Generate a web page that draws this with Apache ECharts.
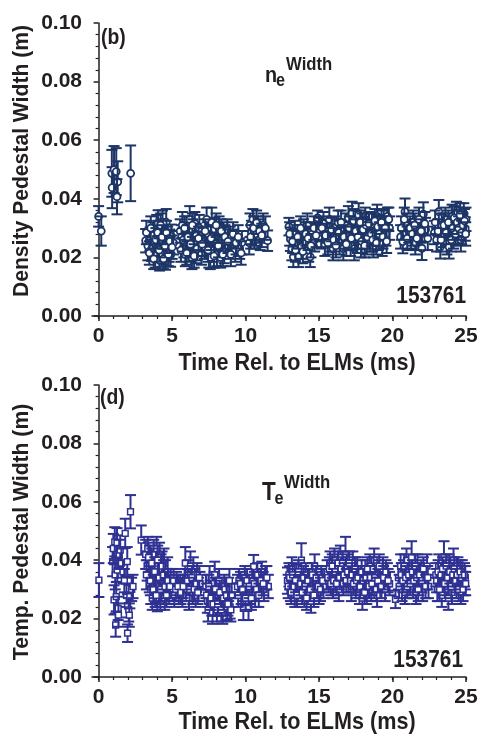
<!DOCTYPE html>
<html><head><meta charset="utf-8">
<script src="https://cdn.jsdelivr.net/npm/echarts@6/dist/echarts.min.js"></script>
<style>html,body{margin:0;padding:0;background:#fff}#c{width:484px;height:742px}</style>
</head><body><div id="c"></div>
<script>
// ---- Panel (b): density pedestal width (ms, m, m) ----
var nTime = [0.00,0.18,0.90,0.92,1.05,1.20,1.30,1.25,2.18,
3.20,3.35,3.50,3.60,3.70,3.80,3.85,3.95,4.00,4.05,4.10,4.15,4.20,4.25,4.30,4.35,4.40,4.45,4.50,4.55,4.60,4.65,4.70,4.80,4.90,4.95,5.10,
5.55,5.65,5.70,5.80,5.90,5.95,6.05,6.10,6.15,6.20,6.30,6.35,6.40,6.45,6.55,6.60,6.65,6.75,6.85,
7.00,7.10,7.20,7.35,7.40,7.50,7.55,7.60,7.70,7.75,7.80,7.90,7.95,8.05,8.10,8.20,8.25,8.30,8.40,8.50,8.55,8.65,8.75,8.85,8.95,9.05,9.20,9.30,9.45,9.60,9.75,
10.25,10.30,10.40,10.50,10.60,10.70,10.85,11.00,11.20,11.50,
12.95,13.05,13.15,13.25,13.35,13.45,13.60,13.70,13.80,13.95,14.05,14.20,14.30,14.40,14.55,14.70,14.90,15.00,
15.15,15.30,15.40,15.55,15.70,15.80,15.95,16.05,16.20,16.30,16.40,16.55,16.65,16.80,16.90,
17.00,17.10,17.15,17.25,17.30,17.40,17.45,17.55,17.60,17.70,17.75,17.85,17.95,18.05,18.15,18.25,18.35,18.45,18.60,18.70,18.85,18.95,19.05,19.15,19.30,19.40,19.55,19.65,19.80,
20.55,20.70,20.85,20.95,21.10,21.25,21.40,21.55,21.70,21.85,22.00,22.10,22.25,22.40,
22.85,23.00,23.15,23.25,23.35,23.45,23.60,23.70,23.85,23.95,24.05,24.15,24.25,24.35,24.45,24.55,24.65,24.75,24.85,24.95,25.00];
var nWidth = [0.0340,0.0290,0.0487,0.0438,0.0500,0.0493,0.0458,0.0407,0.0487,
0.0257,0.0240,0.0262,0.0228,0.0275,0.0250,0.0205,0.0300,0.0232,0.0316,0.0268,0.0190,0.0245,0.0290,0.0208,0.0320,0.0255,0.0222,0.0282,0.0198,0.0320,0.0240,0.0265,0.0230,0.0208,0.0272,0.0250,
0.0290,0.0270,0.0310,0.0240,0.0210,0.0280,0.0255,0.0300,0.0225,0.0330,0.0265,0.0200,0.0290,0.0240,0.0315,0.0220,0.0275,0.0250,0.0300,
0.0215,0.0260,0.0235,0.0330,0.0280,0.0205,0.0250,0.0200,0.0320,0.0270,0.0225,0.0295,0.0245,0.0210,0.0275,0.0300,0.0235,0.0200,0.0260,0.0280,0.0220,0.0250,0.0290,0.0235,0.0265,0.0245,0.0260,0.0225,0.0240,0.0230,0.0250,
0.0250,0.0310,0.0285,0.0330,0.0270,0.0280,0.0300,0.0265,0.0310,0.0257,
0.0305,0.0262,0.0230,0.0202,0.0285,0.0250,0.0202,0.0270,0.0235,0.0290,0.0255,0.0310,0.0225,0.0202,0.0280,0.0260,0.0335,0.0295,
0.0270,0.0315,0.0245,0.0290,0.0330,0.0260,0.0230,0.0300,0.0275,0.0320,0.0250,0.0290,0.0230,0.0310,0.0265,
0.0335,0.0280,0.0245,0.0350,0.0300,0.0230,0.0270,0.0320,0.0255,0.0345,0.0290,0.0240,0.0310,0.0270,0.0330,0.0250,0.0290,0.0260,0.0310,0.0240,0.0280,0.0340,0.0265,0.0300,0.0245,0.0325,0.0280,0.0340,0.0300,
0.0270,0.0254,0.0356,0.0310,0.0290,0.0270,0.0320,0.0250,0.0300,0.0280,0.0231,0.0348,0.0295,0.0265,
0.0285,0.0260,0.0356,0.0236,0.0310,0.0275,0.0330,0.0250,0.0236,0.0300,0.0340,0.0270,0.0310,0.0350,0.0285,0.0330,0.0260,0.0315,0.0345,0.0297,0.0330];
var nErr = [0.0035,0.005,0.008,0.007,0.008,0.008,0.007,0.006,0.0095,
0.004,0.005,0.004,0.004,0.0045,0.004,0.004,0.0045,0.004,0.0045,0.004,0.0035,0.004,0.004,0.004,0.004,0.004,0.0045,0.004,0.004,0.0045,0.004,0.004,0.0045,0.004,0.004,0.004,
0.004,0.004,0.0045,0.004,0.004,0.004,0.004,0.004,0.004,0.0045,0.004,0.004,0.004,0.004,0.004,0.004,0.004,0.004,0.0045,
0.004,0.004,0.004,0.004,0.004,0.004,0.004,0.004,0.005,0.004,0.004,0.004,0.004,0.004,0.004,0.004,0.004,0.0035,0.004,0.004,0.004,0.004,0.004,0.004,0.004,0.004,0.0035,0.004,0.0035,0.0035,0.004,
0.004,0.004,0.004,0.0035,0.004,0.004,0.004,0.004,0.004,0.0035,
0.003,0.004,0.004,0.0035,0.004,0.004,0.0035,0.004,0.004,0.004,0.004,0.004,0.004,0.0035,0.004,0.004,0.0025,0.004,
0.004,0.004,0.004,0.004,0.004,0.004,0.004,0.004,0.004,0.004,0.004,0.004,0.004,0.004,0.004,
0.004,0.004,0.004,0.004,0.004,0.004,0.004,0.004,0.004,0.004,0.004,0.004,0.004,0.004,0.004,0.004,0.004,0.004,0.004,0.004,0.004,0.004,0.004,0.004,0.004,0.004,0.004,0.003,0.004,
0.004,0.004,0.0045,0.004,0.004,0.004,0.004,0.004,0.004,0.004,0.004,0.004,0.004,0.004,
0.004,0.004,0.004,0.004,0.004,0.004,0.004,0.004,0.004,0.004,0.004,0.004,0.004,0.004,0.004,0.004,0.004,0.004,0.004,0.004,0.004];
// additional overlapping (b) points hidden inside the dense clusters
var nTime2 = [3.25,3.45,3.55,3.75,3.90,4.02,4.12,4.22,4.32,4.42,4.52,4.62,4.75,4.85,5.00,
5.60,5.75,5.85,6.00,6.08,6.25,6.38,6.50,6.70,6.80,
7.05,7.25,7.45,7.65,7.85,8.00,8.15,8.35,8.45,8.60,8.80,9.00,9.15,9.35,9.50,9.70,
10.35,10.55,10.75,10.95,11.10,11.35,
13.00,13.20,13.40,13.55,13.75,13.90,14.10,14.25,14.45,14.65,14.80,
15.20,15.45,15.60,15.85,16.00,16.15,16.35,16.50,16.70,16.85,
17.05,17.20,17.35,17.50,17.65,17.80,17.90,18.00,18.10,18.20,18.30,18.40,18.55,18.65,18.80,18.90,19.00,19.10,19.25,19.35,19.50,19.60,19.75,
20.60,20.80,21.00,21.20,21.35,21.50,21.65,21.80,21.95,22.20,
22.90,23.10,23.30,23.50,23.65,23.80,24.00,24.10,24.20,24.30,24.40,24.50,24.60,24.70,24.80,24.90,24.98];
var nWidth2 = [0.0285,0.0215,0.0300,0.0195,0.0260,0.0285,0.0225,0.0310,0.0270,0.0195,0.0240,0.0285,0.0210,0.0255,0.0235,
0.0225,0.0260,0.0300,0.0215,0.0270,0.0245,0.0310,0.0205,0.0230,0.0265,
0.0245,0.0290,0.0225,0.0265,0.0205,0.0310,0.0240,0.0290,0.0210,0.0270,0.0255,0.0210,0.0280,0.0250,0.0270,0.0215,
0.0270,0.0300,0.0320,0.0290,0.0275,0.0300,
0.0280,0.0255,0.0225,0.0270,0.0300,0.0220,0.0280,0.0265,0.0240,0.0300,0.0275,
0.0300,0.0275,0.0250,0.0295,0.0260,0.0240,0.0285,0.0320,0.0270,0.0245,
0.0300,0.0265,0.0325,0.0290,0.0270,0.0320,0.0255,0.0295,0.0240,0.0310,0.0270,0.0315,0.0280,0.0260,0.0325,0.0250,0.0305,0.0280,0.0320,0.0270,0.0300,0.0255,0.0330,
0.0300,0.0330,0.0265,0.0300,0.0280,0.0310,0.0265,0.0330,0.0290,0.0315,
0.0320,0.0290,0.0260,0.0310,0.0285,0.0320,0.0260,0.0300,0.0335,0.0280,0.0320,0.0300,0.0345,0.0285,0.0310,0.0325,0.0280];
var nErr2 = [0.004,0.004,0.004,0.0035,0.004,0.004,0.004,0.004,0.004,0.0035,0.004,0.004,0.004,0.004,0.004,
0.004,0.004,0.004,0.004,0.004,0.004,0.004,0.004,0.004,0.004,
0.004,0.004,0.004,0.004,0.004,0.004,0.004,0.004,0.004,0.004,0.004,0.004,0.004,0.004,0.004,0.004,
0.004,0.004,0.004,0.004,0.004,0.004,
0.004,0.004,0.004,0.004,0.004,0.004,0.004,0.004,0.004,0.004,0.004,
0.004,0.004,0.004,0.004,0.004,0.004,0.004,0.004,0.004,0.004,
0.004,0.004,0.004,0.004,0.004,0.004,0.004,0.004,0.004,0.004,0.004,0.004,0.004,0.004,0.004,0.004,0.004,0.004,0.004,0.004,0.004,0.004,0.004,
0.004,0.004,0.004,0.004,0.004,0.004,0.004,0.004,0.004,0.004,
0.004,0.004,0.004,0.004,0.004,0.004,0.004,0.004,0.004,0.004,0.004,0.004,0.004,0.004,0.004,0.004,0.004];

// ---- Panel (d): temperature pedestal width ----
var tTime = [0.02,0.95,1.00,1.05,1.10,1.13,1.16,1.20,1.25,1.27,1.33,1.35,1.40,1.47,1.55,1.66,1.75,1.81,1.90,1.95,1.97,1.97,2.05,2.09,2.13,2.17,2.25,2.34,2.90,
3.20,3.30,3.35,3.45,3.50,3.55,3.60,3.65,3.75,3.80,3.85,3.90,3.95,4.00,4.05,4.10,4.15,4.20,4.25,4.30,4.40,4.45,4.50,4.55,4.65,4.70,4.80,4.90,
5.05,5.15,5.30,5.45,5.55,5.70,5.85,5.90,6.00,6.10,6.15,6.25,6.30,6.40,6.45,6.55,6.60,6.70,6.80,6.90,
7.30,7.40,7.45,7.55,7.60,7.70,7.75,7.85,7.90,8.00,8.05,8.15,8.20,8.30,8.40,8.45,8.55,8.65,8.75,8.85,8.95,9.05,
9.45,9.55,9.70,9.85,9.95,10.05,10.20,10.30,10.45,10.55,10.65,10.80,10.95,11.10,11.25,11.35,11.55,
12.85,12.95,13.05,13.15,13.25,13.35,13.45,13.55,13.65,13.80,13.90,14.00,14.10,14.20,14.35,14.45,14.60,14.70,14.85,15.00,15.15,15.30,
15.55,15.65,15.75,15.85,15.95,16.05,16.15,16.25,16.35,16.45,16.55,16.65,16.80,16.90,17.00,17.10,17.20,17.30,17.40,17.50,17.60,
17.75,17.85,17.95,18.05,18.15,18.25,18.35,18.45,18.55,18.65,18.75,18.85,18.95,19.05,19.20,19.35,19.50,19.65,19.80,20.20,
20.40,20.55,20.65,20.75,20.85,20.95,21.05,21.15,21.30,21.40,21.50,21.60,21.70,21.80,21.95,22.05,22.20,22.35,22.45,
22.95,23.05,23.15,23.25,23.35,23.50,23.60,23.70,23.80,23.85,23.95,24.05,24.15,24.25,24.35,24.45,24.55,24.65,24.75,24.85,24.95];
var tWidth = [0.0332,0.0395,0.0440,0.0264,0.0463,0.0350,0.0178,0.0275,0.0460,0.0366,0.0235,0.0212,0.0420,0.0435,0.0390,0.0360,0.0330,0.0492,0.0280,0.0395,0.0244,0.0150,0.0230,0.0212,0.0275,0.0566,0.0300,0.0310,0.0469,
0.0420,0.0380,0.0440,0.0340,0.0400,0.0300,0.0360,0.0270,0.0420,0.0320,0.0290,0.0380,0.0440,0.0265,0.0350,0.0310,0.0410,0.0280,0.0370,0.0330,0.0300,0.0390,0.0270,0.0350,0.0320,0.0360,0.0290,0.0330,
0.0300,0.0280,0.0320,0.0290,0.0310,0.0280,0.0330,0.0390,0.0300,0.0350,0.0270,0.0380,0.0320,0.0290,0.0360,0.0330,0.0280,0.0350,0.0300,0.0320,
0.0310,0.0260,0.0230,0.0340,0.0290,0.0250,0.0222,0.0320,0.0350,0.0270,0.0230,0.0300,0.0330,0.0250,0.0280,0.0222,0.0310,0.0260,0.0235,0.0300,0.0240,0.0280,
0.0310,0.0330,0.0290,0.0235,0.0340,0.0310,0.0235,0.0290,0.0330,0.0378,0.0280,0.0350,0.0320,0.0360,0.0300,0.0340,0.0310,
0.0330,0.0350,0.0300,0.0370,0.0320,0.0280,0.0345,0.0300,0.0330,0.0400,0.0310,0.0280,0.0350,0.0290,0.0330,0.0260,0.0310,0.0380,0.0320,0.0290,0.0340,0.0310,
0.0360,0.0330,0.0390,0.0350,0.0310,0.0400,0.0340,0.0370,0.0300,0.0410,0.0350,0.0320,0.0420,0.0380,0.0330,0.0360,0.0300,0.0390,0.0340,0.0310,0.0370,
0.0290,0.0340,0.0270,0.0310,0.0360,0.0290,0.0330,0.0380,0.0300,0.0350,0.0400,0.0320,0.0280,0.0360,0.0330,0.0370,0.0300,0.0350,0.0320,0.0266,
0.0340,0.0380,0.0300,0.0360,0.0290,0.0400,0.0330,0.0370,0.0410,0.0310,0.0350,0.0290,0.0380,0.0320,0.0360,0.0300,0.0340,0.0380,0.0310,
0.0350,0.0300,0.0380,0.0330,0.0280,0.0410,0.0350,0.0300,0.0270,0.0380,0.0330,0.0290,0.0400,0.0340,0.0310,0.0370,0.0330,0.0290,0.0360,0.0320,0.0340];
var tErr = [0.0058,0.005,0.005,0.005,0.005,0.005,0.004,0.005,0.005,0.004,0.004,0.004,0.005,0.005,0.005,0.004,0.004,0.005,0.004,0.005,0.004,0.003,0.004,0.004,0.004,0.0057,0.004,0.004,0.005,
0.005,0.005,0.004,0.005,0.005,0.005,0.005,0.004,0.005,0.005,0.005,0.005,0.004,0.004,0.005,0.005,0.005,0.005,0.005,0.005,0.005,0.005,0.004,0.005,0.005,0.005,0.004,0.004,
0.004,0.004,0.004,0.004,0.004,0.004,0.004,0.0055,0.004,0.005,0.004,0.005,0.004,0.004,0.005,0.004,0.004,0.004,0.004,0.004,
0.004,0.004,0.004,0.004,0.004,0.004,0.004,0.004,0.0045,0.004,0.004,0.004,0.004,0.004,0.004,0.004,0.004,0.004,0.004,0.004,0.004,0.004,
0.004,0.004,0.004,0.004,0.004,0.004,0.004,0.004,0.004,0.004,0.004,0.004,0.004,0.0035,0.004,0.004,0.004,
0.0045,0.004,0.004,0.004,0.004,0.004,0.004,0.004,0.004,0.0058,0.004,0.004,0.004,0.004,0.004,0.004,0.004,0.004,0.004,0.004,0.004,0.004,
0.004,0.004,0.004,0.004,0.004,0.004,0.004,0.004,0.004,0.004,0.004,0.004,0.006,0.004,0.004,0.004,0.004,0.004,0.004,0.004,0.004,
0.004,0.004,0.004,0.004,0.004,0.004,0.004,0.004,0.004,0.004,0.004,0.004,0.004,0.004,0.004,0.004,0.004,0.004,0.004,0.003,
0.004,0.004,0.004,0.004,0.004,0.004,0.004,0.004,0.0055,0.004,0.004,0.004,0.004,0.004,0.004,0.004,0.004,0.004,0.004,
0.004,0.004,0.004,0.004,0.004,0.0055,0.004,0.004,0.004,0.004,0.004,0.004,0.004,0.004,0.004,0.004,0.004,0.004,0.004,0.004,0.004];
// additional overlapping (d) points hidden inside the dense clusters
var tTime2 = [3.25,3.40,3.52,3.62,3.72,3.82,3.92,4.02,4.12,4.22,4.32,4.42,4.52,4.62,4.72,4.85,
5.10,5.25,5.40,5.60,5.75,6.05,6.20,6.35,6.50,6.65,6.75,6.85,
7.35,7.50,7.65,7.80,7.95,8.10,8.25,8.35,8.50,8.60,8.70,8.80,8.90,9.00,
9.50,9.65,9.80,10.00,10.10,10.25,10.40,10.60,10.75,10.90,11.05,11.20,11.45,
12.90,13.00,13.10,13.20,13.30,13.40,13.50,13.60,13.75,13.85,13.95,14.05,14.15,14.25,14.40,14.55,14.65,14.80,14.95,15.10,15.25,
15.60,15.70,15.80,15.90,16.00,16.10,16.20,16.30,16.40,16.50,16.60,16.70,16.85,16.95,17.05,17.15,17.25,17.35,17.45,17.55,17.65,
17.80,17.90,18.00,18.10,18.20,18.30,18.40,18.50,18.60,18.70,18.80,18.90,19.00,19.10,19.25,19.40,19.55,19.70,
20.45,20.60,20.70,20.80,20.90,21.00,21.10,21.20,21.35,21.45,21.55,21.65,21.75,21.85,22.00,22.10,22.25,22.40,
23.00,23.10,23.20,23.30,23.40,23.55,23.65,23.75,23.90,24.00,24.10,24.20,24.30,24.40,24.50,24.60,24.70,24.80,24.90,24.98];
var tWidth2 = [0.0350,0.0410,0.0330,0.0390,0.0300,0.0360,0.0280,0.0400,0.0340,0.0300,0.0380,0.0350,0.0310,0.0280,0.0330,0.0310,
0.0330,0.0300,0.0310,0.0290,0.0310,0.0330,0.0300,0.0340,0.0300,0.0320,0.0290,0.0340,
0.0280,0.0310,0.0270,0.0250,0.0300,0.0250,0.0290,0.0230,0.0270,0.0300,0.0280,0.0250,0.0330,0.0230,
0.0280,0.0320,0.0300,0.0270,0.0330,0.0310,0.0270,0.0320,0.0300,0.0280,0.0330,0.0320,0.0340,
0.0310,0.0340,0.0290,0.0350,0.0310,0.0330,0.0280,0.0360,0.0320,0.0290,0.0340,0.0310,0.0270,0.0330,0.0300,0.0350,0.0280,0.0340,0.0310,0.0300,0.0330,
0.0340,0.0370,0.0320,0.0380,0.0330,0.0360,0.0320,0.0390,0.0340,0.0370,0.0390,0.0350,0.0330,0.0360,0.0390,0.0330,0.0350,0.0320,0.0370,0.0330,0.0340,
0.0310,0.0360,0.0330,0.0290,0.0340,0.0370,0.0310,0.0340,0.0320,0.0370,0.0340,0.0300,0.0330,0.0380,0.0310,0.0340,0.0360,0.0330,
0.0310,0.0350,0.0330,0.0380,0.0340,0.0310,0.0350,0.0320,0.0360,0.0330,0.0380,0.0340,0.0300,0.0350,0.0330,0.0370,0.0310,0.0340,
0.0330,0.0360,0.0300,0.0350,0.0370,0.0320,0.0380,0.0340,0.0360,0.0310,0.0350,0.0370,0.0330,0.0350,0.0300,0.0360,0.0340,0.0300,0.0350,0.0320];
var tErr2 = [0.005,0.005,0.005,0.005,0.005,0.005,0.004,0.005,0.005,0.005,0.005,0.005,0.005,0.004,0.004,0.004,
0.004,0.004,0.004,0.004,0.004,0.004,0.004,0.004,0.004,0.004,0.004,0.004,
0.004,0.004,0.004,0.004,0.004,0.004,0.004,0.004,0.004,0.004,0.004,0.004,0.004,0.004,
0.004,0.004,0.004,0.004,0.004,0.004,0.004,0.004,0.004,0.004,0.004,0.004,0.004,
0.004,0.004,0.004,0.004,0.004,0.004,0.004,0.004,0.004,0.004,0.004,0.004,0.004,0.004,0.004,0.004,0.004,0.004,0.004,0.004,0.004,
0.004,0.004,0.004,0.004,0.004,0.004,0.004,0.004,0.004,0.004,0.004,0.004,0.004,0.004,0.004,0.004,0.004,0.004,0.004,0.004,0.004,
0.004,0.004,0.004,0.004,0.004,0.004,0.004,0.004,0.004,0.004,0.004,0.004,0.004,0.004,0.004,0.004,0.004,0.004,
0.004,0.004,0.004,0.004,0.004,0.004,0.004,0.004,0.004,0.004,0.004,0.004,0.004,0.004,0.004,0.004,0.004,0.004,
0.004,0.004,0.004,0.004,0.004,0.004,0.004,0.004,0.004,0.004,0.004,0.004,0.004,0.004,0.004,0.004,0.004,0.004,0.004,0.004];

var xMajorTicks = [0,5,10,15,20,25];
var xMinorTicks = [0,1,2,3,4,5,6,7,8,9,10,11,12,13,14,15,16,17,18,19,20,21,22,23,24,25];

var FONT = "'Liberation Sans', Arial, sans-serif";
var INK = '#231f20';
var C_N = '#1c3566';
var C_T = '#2e3192';

function zip(a, b, c) { return a.map(function (t, i) { return [t, b[i], c[i]]; }); }

function errRender(kind, color) {
  return function (params, api) {
    var x = api.value(0), y = api.value(1), e = api.value(2);
    var c = api.coord([x, y]);
    var hi = api.coord([x, y + e]);
    var lo = api.coord([x, y - e]);
    var cw = 5.5;
    var ls = { stroke: color, lineWidth: 2 };
    var ch = [
      { type: 'line', shape: { x1: c[0], y1: hi[1], x2: c[0], y2: lo[1] }, style: ls },
      { type: 'line', shape: { x1: c[0] - cw, y1: hi[1], x2: c[0] + cw, y2: hi[1] }, style: ls },
      { type: 'line', shape: { x1: c[0] - cw, y1: lo[1], x2: c[0] + cw, y2: lo[1] }, style: ls }
    ];
    if (kind === 'circle') {
      ch.push({ type: 'circle', shape: { cx: c[0], cy: c[1], r: 3.5 }, style: { fill: '#fff', stroke: color, lineWidth: 1.8 } });
    } else {
      ch.push({ type: 'rect', shape: { x: c[0] - 2.9, y: c[1] - 2.9, width: 5.8, height: 5.8 }, style: { fill: '#fff', stroke: color, lineWidth: 1.5 } });
    }
    return { type: 'group', children: ch };
  };
}

function xMain(gi) {
  return {
    type: 'value', gridIndex: gi, min: -0.45, max: 25, position: 'bottom',
    axisLine: { show: true, lineStyle: { color: INK, width: 1.5 } },
    axisTick: { show: true, inside: false, length: 5, customValues: xMajorTicks, lineStyle: { color: INK, width: 1.5 } },
    axisLabel: { customValues: xMajorTicks, margin: 10, fontFamily: FONT, fontWeight: 'bold', fontSize: 21, color: INK },
    splitLine: { show: false }
  };
}
function xMinor(gi) {
  return {
    type: 'value', gridIndex: gi, min: -0.45, max: 25, position: 'bottom', offset: 0,
    axisLine: { show: false },
    axisTick: { show: true, inside: false, length: 3, customValues: xMinorTicks, lineStyle: { color: INK, width: 1.2 } },
    axisLabel: { show: false },
    splitLine: { show: false }
  };
}
function yAx(gi) {
  return {
    type: 'value', gridIndex: gi, min: 0, max: 0.1, interval: 0.02,
    axisLine: { show: true, lineStyle: { color: INK, width: 1.5 } },
    axisTick: { show: true, inside: false, length: 5, lineStyle: { color: INK, width: 1.5 } },
    minorTick: { show: true, splitNumber: 5, length: 3, lineStyle: { color: INK, width: 1.2 } },
    axisLabel: { margin: 10, fontFamily: FONT, fontWeight: 'bold', fontSize: 21, color: INK, formatter: function (v) { return v.toFixed(2); } },
    splitLine: { show: false }
  };
}

function txt(x, y, s, size, opt) {
  opt = opt || {};
  return {
    type: 'text', x: x, y: y, rotation: opt.rot || 0, scaleX: opt.sx || 1, silent: true, z: 100,
    style: { text: s, fontFamily: FONT, fontWeight: 'bold', fontSize: size, fill: INK,
      align: opt.align || 'left', verticalAlign: 'middle' }
  };
}

var chart = echarts.init(document.getElementById('c'), null, { renderer: 'canvas' });
chart.setOption({
  animation: false,
  backgroundColor: '#fff',
  grid: [
    { left: 92, top: 23, width: 374, height: 293 },
    { left: 92, top: 385, width: 374, height: 292 }
  ],
  xAxis: [xMain(0), xMinor(0), xMain(1), xMinor(1)],
  yAxis: [yAx(0), yAx(1)],
  series: [
    { type: 'custom', xAxisIndex: 0, yAxisIndex: 0, renderItem: errRender('circle', C_N),
      encode: { x: 0, y: 1 }, data: zip(nTime, nWidth, nErr).concat(zip(nTime2, nWidth2, nErr2)), clip: false },
    { type: 'custom', xAxisIndex: 2, yAxisIndex: 1, renderItem: errRender('square', C_T),
      encode: { x: 0, y: 1 }, data: zip(tTime, tWidth, tErr).concat(zip(tTime2, tWidth2, tErr2)), clip: false }
  ],
  graphic: [
    txt(22, 161, 'Density Pedestal Width (m)', 22, { rot: Math.PI / 2, align: 'center', sx: 0.96 }),
    txt(22, 532, 'Temp. Pedestal Width (m)', 22, { rot: Math.PI / 2, align: 'center', sx: 0.96 }),
    txt(297, 363, 'Time Rel. to ELMs (ms)', 24, { align: 'center', sx: 0.9 }),
    txt(297, 722, 'Time Rel. to ELMs (ms)', 24, { align: 'center', sx: 0.9 }),
    txt(101, 38, '(b)', 22, { sx: 0.88 }),
    txt(100, 398, '(d)', 22, { sx: 0.88 }),
    txt(466, 296, '153761', 24, { align: 'right', sx: 0.87 }),
    txt(463, 660, '153761', 24, { align: 'right', sx: 0.87 }),
    txt(265, 76, 'n', 22, { sx: 0.9 }),
    txt(276, 81, 'e', 18, { sx: 0.9 }),
    txt(286, 64.5, 'Width', 19, { sx: 0.88 }),
    txt(262, 493, 'T', 25, { sx: 0.9 }),
    txt(274.5, 499, 'e', 18, { sx: 0.9 }),
    txt(284, 482.5, 'Width', 19, { sx: 0.88 })
  ]
});
</script></body></html>
